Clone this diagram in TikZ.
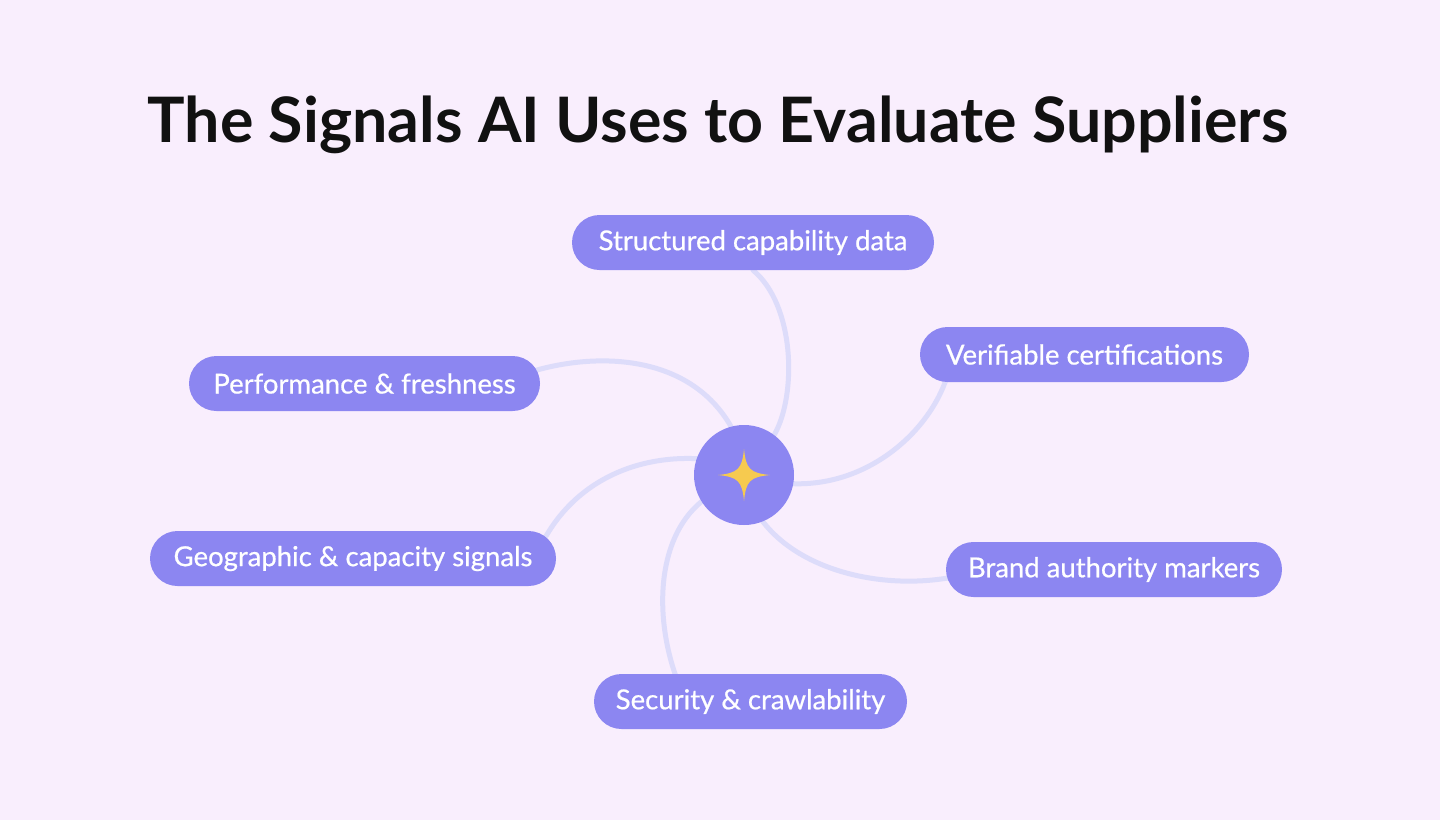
\documentclass[tikz,border=0pt]{standalone}
\usepackage{fontspec}
\setmainfont{Lato}
\usetikzlibrary{calc}
\pgfdeclarelayer{back}
\pgfsetlayers{back,main}
\definecolor{bg}{HTML}{F9EEFD}
\definecolor{pill}{HTML}{8C86F1}
\definecolor{link}{HTML}{DDDCFA}
\definecolor{star}{HTML}{F6CA4F}
\definecolor{ink}{HTML}{111111}
\begin{document}
\begin{tikzpicture}[x=1pt,y=-1pt,
  pillbox/.style={fill=pill,rounded corners=27.5pt,minimum height=55pt,inner sep=0pt,
    text=white,font=\fontsize{27.5}{30}\selectfont\addfontfeature{FakeBold=0.6}},
  hubnode/.style={circle,fill=pill,minimum size=100pt,inner sep=0pt},
  linkline/.style={draw=link,line width=5pt,line cap=round}]
\useasboundingbox (0,0) rectangle (1440,820);
\node[text=ink,font=\fontsize{62.7}{70}\selectfont\bfseries] (title) at (718,125) {The Signals AI Uses to Evaluate Suppliers};
\node[hubnode] (hub) at (744,475) {};
\node[pillbox,minimum width=362pt] (c1) at (753,242.5) {Structured capability data};
\node[pillbox,minimum width=329pt] (c2) at (1084.5,354.5) {Verifiable certifications};
\node[pillbox,minimum width=351pt] (c3) at (364.5,383.5) {Performance \& freshness};
\node[pillbox,minimum width=406pt] (c4) at (353,558.5) {Geographic \& capacity signals};
\node[pillbox,minimum width=336pt] (c5) at (1114,569.5) {Brand authority markers};
\node[pillbox,minimum width=313pt] (c6) at (750.5,701.5) {Security \& crawlability};
% star
\fill[star] (hub.center) ++(0,-26) coordinate (st)
  .. controls ++(2,20) and ++(-20,-2) .. ++(26,26)
  .. controls ++(-20,2) and ++(2,-20) .. ++(-26,26)
  .. controls ++(-2,-20) and ++(20,2) .. ++(-26,-26)
  .. controls ++(20,-2) and ++(-2,20) .. cycle;
\begin{pgfonlayer}{back}
\fill[bg] (0,0) rectangle (1440,820);
\draw[linkline] (hub.53) .. controls (797,395) and (795,305) .. (c1.south);
\draw[linkline] (hub.-10) .. controls (870,486) and (930,430) .. ($(c2.south west)+(27,-5)$);
\draw[linkline] (hub.105) .. controls (690,355) and (600,352) .. ($(c3.east)+(-5,-13)$);
\draw[linkline] (hub.161) .. controls (640,456) and (580,478) .. ($(c4.north east)+(-10,5)$);
\draw[linkline] (hub.212) .. controls (655,540) and (655,620) .. ($(c6.north west)+(83,5)$);
\draw[linkline] (hub.292) .. controls (800,570) and (880,590) .. ($(c5.west)+(5,8)$);
\end{pgfonlayer}
\end{tikzpicture}
\end{document}
